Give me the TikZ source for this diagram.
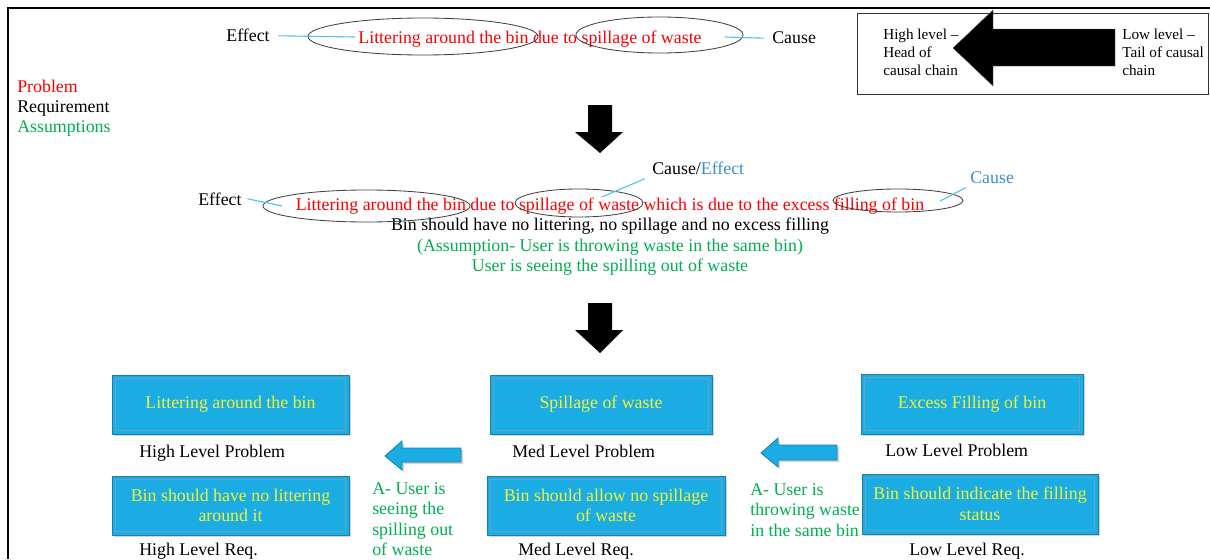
\documentclass[tikz,border=0pt]{standalone}
\usepackage{fontspec}
\setmainfont{Liberation Serif}
\usetikzlibrary{shapes.geometric, shadows}
\usepackage{xcolor}
\definecolor{prbred}{HTML}{FF0000}
\definecolor{asmgreen}{HTML}{00B050}
\definecolor{leadblue}{HTML}{4FC3EA}
\definecolor{causeblue}{HTML}{3A8FD4}
\definecolor{boxfill}{HTML}{1AACE3}
\definecolor{boxedge}{HTML}{1A7FB0}
\definecolor{boxtext}{HTML}{F0F53A}

\begin{document}
\begin{tikzpicture}[x=0.025cm, y=-0.025cm,
    txt/.style={font=\fontsize{12.7}{14.6}\selectfont, inner sep=0pt},
    small/.style={font=\fontsize{10.8}{12.8}\selectfont, inner sep=0pt, align=left},
    oval/.style={ellipse, draw=black!75, line width=0.6pt, inner sep=0pt},
    lead/.style={draw=leadblue, line width=0.8pt},
    levelbox/.style={rectangle, fill=boxfill, draw=boxedge, line width=0.6pt,
                     text=boxtext, font=\fontsize{12.7}{14.6}\selectfont, align=center,
                     drop shadow={shadow xshift=1.5pt, shadow yshift=-1.5pt, opacity=0.35},
                     path picture={\draw[boxedge!70, line width=0.4pt]
                       ([shift={(2.5pt,2.5pt)}]path picture bounding box.south west) rectangle
                       ([shift={(-2.5pt,-2.5pt)}]path picture bounding box.north east);}},
    blockdown/.style={fill=black},
    blockleft/.style={fill=boxfill, draw=boxedge, line width=0.6pt,
                      drop shadow={shadow xshift=1.5pt, shadow yshift=-1.5pt, opacity=0.35}}]
    \useasboundingbox (0,0) rectangle (1210,559);
    \draw[line width=1.4pt] (8,559) -- (8,8) -- (1210,8);

    % key on the left
    \node[txt, text=prbred, anchor=base west] (keyprb) at (17,92) {Problem};
    \node[txt, anchor=base west] (keyreq) at (17,112) {Requirement};
    \node[txt, text=asmgreen, anchor=base west] (keyasm) at (17,132) {Assumptions};

    % key for the causal chain
    \node[rectangle, draw=black!80, line width=0.6pt, minimum width=8.775cm,
          minimum height=2.025cm] (chainkey) at (1032.5,53.5) {};
    \fill[black, draw=black!60, line width=0.3pt] (953,48) -- (993,10) -- (993,29) -- (1115,29)
        -- (1115,66) -- (993,66) -- (993,86) -- cycle;
    \node[small, anchor=north west] (headtxt) at (883,28.5) {High level --\\Head of\\causal chain};
    \node[small, anchor=north west] (tailtxt) at (1122,28.5) {Low level --\\Tail of causal\\chain};

    % first statement
    \node[txt, text=prbred, anchor=base] (stmtA) at (530,43)
        {Littering around the bin due to spillage of waste};
    \node[oval, minimum width=5.75cm, minimum height=0.925cm] (ovLit) at (423,36.5) {};
    \node[oval, minimum width=4.175cm, minimum height=0.9cm] (ovSpill) at (659.5,35) {};
    \node[txt, anchor=base] (effA) at (248,42) {Effect};
    \node[txt, anchor=base west] (causeA) at (772,44) {Cause};
    \coordinate (effAend) at (355,37);
    \coordinate (causeAend) at (725,37);
    \draw[lead] ([xshift=6pt]effA.east) -- (effAend);
    \draw[lead] ([xshift=-6pt]causeA.west) -- (causeAend);

    \fill[blockdown] (588,105) -- (612,105) -- (612,132) -- (623,132) -- (600,153)
        -- (575,132) -- (588,132) -- cycle;

    % second statement
    \node[txt, text=prbred, anchor=base] (stmtB) at (610,210)
        {Littering around the bin due to spillage of waste which is due to the excess filling of bin};
    \node[txt, anchor=base] (reqB) at (610,230)
        {Bin should have no littering, no spillage and no excess filling};
    \node[txt, text=asmgreen, anchor=base] (asmB1) at (610,251)
        {(Assumption- User is throwing waste in the same bin)};
    \node[txt, text=asmgreen, anchor=base] (asmB2) at (610,271)
        {User is seeing the spilling out of waste};
    \node[oval, minimum width=5.175cm, minimum height=0.8cm] (ovLitB) at (366.5,206) {};
    \node[oval, minimum width=3.2cm, minimum height=0.7cm] (ovSpillB) at (579,203) {};
    \node[oval, minimum width=3.25cm, minimum height=0.575cm] (ovFill) at (898,200.5) {};
    \node[txt, anchor=base west] (effB) at (198,205) {Effect};
    \node[txt, anchor=base west] (causeeff) at (652,174) {Cause/\textcolor{causeblue}{Effect}};
    \node[txt, text=causeblue, anchor=base west] (causeB) at (970,183) {Cause};
    \coordinate (effBend) at (282,206);
    \coordinate (ceend) at (602,197);
    \coordinate (causeBend) at (940,201);
    \draw[lead] ([xshift=4pt]effB.east) -- (effBend);
    \draw[lead] (ceend) -- ([shift={(-5pt,-3pt)}]causeeff.south west);
    \draw[lead] (causeBend) -- ([shift={(-3pt,-3pt)}]causeB.south west);

    \fill[blockdown] (588,303) -- (612,303) -- (612,330) -- (623,330) -- (600,353)
        -- (575,330) -- (588,330) -- cycle;

    % levels
    \node[levelbox, minimum width=5.925cm, minimum height=1.475cm] (hiprb) at (230.5,404.5)
        {Littering around the bin};
    \node[levelbox, minimum width=5.925cm, minimum height=1.475cm] (hireq) at (230.5,505.5)
        {Bin should have no littering\\around it};
    \node[levelbox, minimum width=5.55cm, minimum height=1.475cm] (medprb) at (601,404.5)
        {Spillage of waste};
    \node[levelbox, minimum width=5.95cm, minimum height=1.475cm] (medreq) at (606,505.5)
        {Bin should allow no spillage\\of waste};
    \node[levelbox, minimum width=5.55cm, minimum height=1.5cm] (lowprb) at (972,404)
        {Excess Filling of bin};
    \node[levelbox, minimum width=5.9cm, minimum height=1.5cm] (lowreq) at (980,504)
        {Bin should indicate the filling\\status};

    \node[txt, anchor=base west] (hiprblbl) at (139,457) {High Level Problem};
    \node[txt, anchor=base west] (hireqlbl) at (139,555) {High Level Req.};
    \node[txt, anchor=base west] (medprblbl) at (512,457) {Med Level Problem};
    \node[txt, anchor=base west] (medreqlbl) at (518,555) {Med Level Req.};
    \node[txt, anchor=base west] (lowprblbl) at (885,456) {Low Level Problem};
    \node[txt, anchor=base west] (lowreqlbl) at (909,555) {Low Level Req.};

    \fill[blockleft] (385,456) -- (402,441) -- (402,448) -- (461,448) -- (461,462)
        -- (402,462) -- (402,470) -- cycle;
    \fill[blockleft] (761,453) -- (778,438) -- (778,445) -- (837,445) -- (837,460)
        -- (778,460) -- (778,467) -- cycle;

    \node[txt, text=asmgreen, align=left, anchor=north west] (asmhi) at (372,482)
        {A- User is\\seeing the\\spilling out\\of waste};
    \node[txt, text=asmgreen, align=left, anchor=north west] (asmmed) at (750,483)
        {A- User is\\throwing waste\\in the same bin};
\end{tikzpicture}
\end{document}
